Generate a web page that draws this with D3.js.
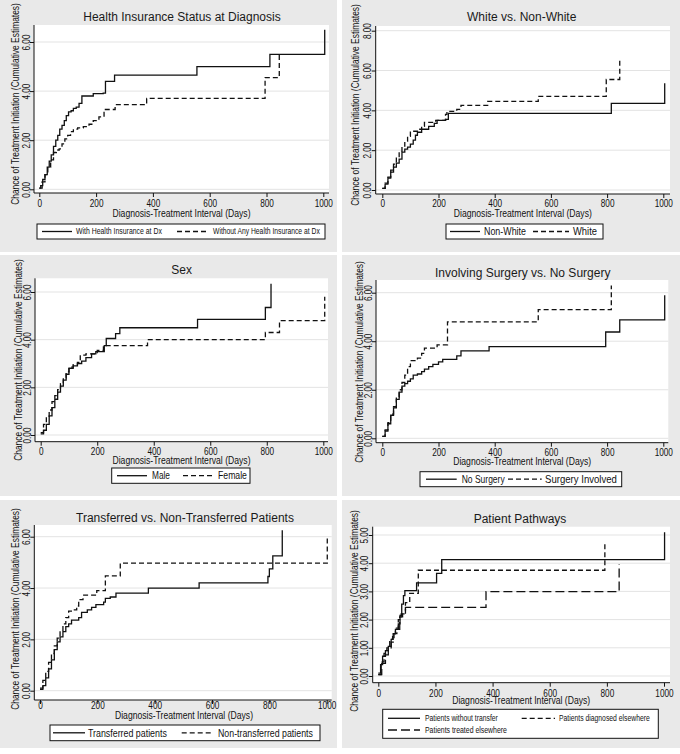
<!DOCTYPE html>
<html><head><meta charset="utf-8">
<script src="https://cdn.jsdelivr.net/npm/d3@7"></script>
<style>body{margin:0;background:#fff}svg{display:block}</style>
</head><body>
<svg id="c" width="680" height="754"></svg>
<script>
// ---------- DATA ----------
const xTicks = [0, 200, 400, 600, 800, 1000];
const yTicks6 = [0, 2, 4, 6];
const yTicks8 = [0, 2, 4, 6, 8];
const yTicks5 = [0, 1, 2, 3, 4, 5];
const xAxisTitle = "Diagnosis-Treatment Interval (Days)";
const yAxisTitle = "Chance of Treatment Initiation (Cumulative Estimates)";
const titles = ["Health Insurance Status at Diagnosis", "White vs. Non-White", "Sex",
  "Involving Surgery vs. No Surgery", "Transferred vs. Non-Transferred Patients", "Patient Pathways"];

// Panel 1
const insYesT = [0,5,12,20,28,35,42,50,58,65,72,80,88,95,103,112,120,130,140,150,190,225,233,265,555,812,1005];
const insYesV = [0.05,0.15,0.4,0.6,0.9,1.15,1.4,1.75,2.0,2.2,2.45,2.6,2.8,3.0,3.15,3.2,3.3,3.35,3.5,3.8,3.9,3.92,4.4,4.65,5.0,5.5,6.5];
const insNoT = [0,10,20,30,40,50,60,70,80,90,100,110,120,135,155,175,190,210,228,267,378,795,845];
const insNoV = [0.05,0.3,0.6,0.9,1.2,1.5,1.6,1.65,1.85,2.05,2.2,2.35,2.45,2.5,2.55,2.65,2.8,2.95,3.25,3.45,3.7,4.55,5.5];
const insLabels = ["With Health Insurance at Dx", "Without Any Health Insurance at Dx"];

// Panel 2
const nonWhiteT = [0,10,20,30,40,50,60,70,80,90,100,110,118,125,140,165,185,195,225,235,815,1005];
const nonWhiteV = [0.08,0.3,0.6,0.9,1.15,1.35,1.55,1.9,2.05,2.15,2.3,2.5,2.75,2.9,3.05,3.2,3.35,3.5,3.55,3.85,4.35,5.36];
const whiteT = [0,10,20,30,40,50,60,70,80,90,100,125,140,150,190,225,230,265,280,375,555,797,845];
const whiteV = [0.08,0.35,0.65,1.0,1.3,1.6,1.9,2.2,2.45,2.7,2.95,3.05,3.2,3.4,3.5,3.8,3.95,4.05,4.25,4.45,4.7,5.55,6.55];
const raceLabels = ["Non-White", "White"];

// Panel 3
const maleT = [0,10,20,30,40,50,60,70,80,90,100,115,130,145,160,180,195,225,232,265,280,555,795,815];
const maleV = [0.05,0.2,0.45,0.8,1.15,1.5,1.8,2.05,2.3,2.55,2.8,2.9,3.0,3.1,3.25,3.4,3.5,3.75,4.05,4.25,4.5,4.85,5.35,6.35];
const femaleT = [0,10,20,30,40,50,60,70,80,90,100,115,130,140,160,200,222,378,795,845,1005];
const femaleV = [0.1,0.45,0.75,1.05,1.4,1.65,1.9,2.15,2.4,2.65,2.85,2.95,3.05,3.35,3.4,3.55,3.75,4.0,4.3,4.8,5.8];
const sexLabels = ["Male", "Female"];

// Panel 4
const noSurgT = [0,10,20,30,40,50,60,70,80,90,100,110,125,140,150,165,180,200,215,265,280,380,795,845,1005];
const noSurgV = [0.08,0.3,0.6,0.95,1.25,1.6,1.9,2.15,2.25,2.35,2.45,2.6,2.65,2.75,2.85,2.95,3.05,3.15,3.25,3.4,3.6,3.78,4.38,4.88,5.9];
const surgT = [0,10,20,30,40,50,60,70,80,90,100,125,140,150,195,232,555,815];
const surgV = [0.08,0.35,0.65,1.0,1.3,1.7,2.0,2.3,2.6,2.95,3.2,3.3,3.5,3.72,3.85,4.8,5.3,6.3];
const surgLabels = ["No Surgery", "Surgery Involved"];

// Panel 5
const transT = [0,10,20,30,40,50,60,70,80,90,100,110,135,145,165,180,195,222,228,245,265,378,555,795,800,812,845];
const transV = [0.05,0.2,0.5,0.85,1.2,1.6,1.9,2.1,2.3,2.5,2.6,2.75,2.85,3.05,3.15,3.25,3.35,3.45,3.6,3.65,3.8,4.0,4.2,4.45,4.75,5.25,6.25];
const nonTransT = [0,10,20,30,40,50,60,70,80,90,100,115,128,135,150,198,228,280,1002];
const nonTransV = [0.1,0.4,0.75,1.1,1.45,1.75,2.05,2.35,2.6,2.85,3.1,3.15,3.3,3.55,3.72,3.9,4.47,4.97,6.0];
const transLabels = ["Transferred patients", "Non-transferred patients"];

// Panel 6
const noTransferT = [0,8,15,25,35,45,52,60,70,76,82,88,93,134,204,222,1002];
const noTransferV = [0.1,0.4,0.7,0.9,1.05,1.3,1.5,1.65,1.85,2.15,2.55,2.85,3.03,3.3,3.64,4.13,5.1];
const diagElseT = [0,10,20,30,40,50,60,70,80,95,110,140,793];
const diagElseV = [0.05,0.5,0.8,1.0,1.3,1.5,1.7,2.0,2.2,2.6,2.93,3.75,4.75];
const treatElseT = [0,12,25,35,45,55,65,75,85,95,377,843];
const treatElseV = [0.05,0.45,0.75,1.0,1.2,1.5,1.65,2.1,2.2,2.43,2.99,3.97];
const pathLabels = ["Patients without transfer", "Patients diagnosed elsewhere", "Patients treated elsewhere"];

// ---------- STYLE / LAYOUT ----------
const FONT = '"Liberation Sans", Arial, Helvetica, sans-serif';
const BG = "#e9e9e9", GRID = "#e3e3e3", INK = "#111";
const SOLID = "", DASH = "5,3", LDASH = "9,4";

const panels = [
 {title: titles[0], bg:[0,0,337,252], plot:[34,25,329,193], xr:[39.3,323.3], ymax:6, yr:[189.3,42], yt:yTicks6,
  titleX:182, titleY:20.5, xTickY:206.5, xTitleX:181.5, xTitleY:216.5, yTickX:29.5, yTitleX:19, yTitleY:104,
  series:[{t:insYesT,v:insYesV,dash:SOLID},{t:insNoT,v:insNoV,dash:DASH}],
  legend:{box:[37,224,325,239], fs:8.5, items:[
    {dash:SOLID,x1:42,x2:72,tx:76,tw:86,y:231.5,lab:insLabels[0]},
    {dash:DASH,x1:177,x2:208,tx:213,tw:107,y:231.5,lab:insLabels[1]}]}},
 {title: titles[1], bg:[342,0,680,252], plot:[375.7,26,670,194], xr:[382.3,663.3], ymax:8, yr:[190,30.7], yt:yTicks8,
  titleX:521.7, titleY:20.5, xTickY:206.5, xTitleX:522.8, xTitleY:216.5, yTickX:371, yTitleX:358.5, yTitleY:105,
  series:[{t:nonWhiteT,v:nonWhiteV,dash:SOLID},{t:whiteT,v:whiteV,dash:DASH}],
  legend:{box:[446,224,603,239], fs:10.5, items:[
    {dash:SOLID,x1:450,x2:480,tx:484,tw:42,y:231.5,lab:raceLabels[0]},
    {dash:DASH,x1:533,x2:569,tx:573,tw:24,y:231.5,lab:raceLabels[1]}]}},
 {title: titles[2], bg:[0,255,337,496], plot:[35,278.3,328,441.7], xr:[40.7,323.3], ymax:6, yr:[435,292], yt:yTicks6,
  titleX:181.7, titleY:274, xTickY:454.5, xTitleX:181.5, xTitleY:463.8, yTickX:30.5, yTitleX:21.5, yTitleY:360,
  series:[{t:maleT,v:maleV,dash:SOLID},{t:femaleT,v:femaleV,dash:DASH}],
  legend:{box:[111.7,468,250,483.3], fs:10.5, items:[
    {dash:SOLID,x1:117,x2:147,tx:152,tw:18,y:475.7,lab:sexLabels[0]},
    {dash:DASH,x1:183,x2:213,tx:218,tw:29,y:475.7,lab:sexLabels[1]}]}},
 {title: titles[3], bg:[342,255,680,496], plot:[376,280,668.3,442.7], xr:[382.3,663.3], ymax:6, yr:[438.3,292.7], yt:yTicks6,
  titleX:522.7, titleY:277, xTickY:455.5, xTitleX:522.2, xTitleY:465, yTickX:371.5, yTitleX:362.5, yTitleY:362,
  series:[{t:noSurgT,v:noSurgV,dash:SOLID},{t:surgT,v:surgV,dash:DASH}],
  legend:{box:[420,471.7,621.7,486.7], fs:10.5, items:[
    {dash:SOLID,x1:426,x2:456.7,tx:461.7,tw:43,y:479.2,lab:surgLabels[0]},
    {dash:DASH,x1:508,x2:541.7,tx:545,tw:72,y:479.2,lab:surgLabels[1]}]}},
 {title: titles[4], bg:[0,500,337,748], plot:[34.3,525,331.7,700], xr:[40,326.7], ymax:6, yr:[690.7,536.7], yt:yTicks6,
  titleX:185, titleY:521.7, xTickY:709, xTitleX:184, xTitleY:719.2, yTickX:29.5, yTitleX:18.5, yTitleY:609,
  series:[{t:transT,v:transV,dash:SOLID},{t:nonTransT,v:nonTransV,dash:DASH}],
  legend:{box:[50,725,320,740.7], fs:11, items:[
    {dash:SOLID,x1:53,x2:85,tx:88,tw:79,y:732.8,lab:transLabels[0]},
    {dash:DASH,x1:181.7,x2:213,tx:218,tw:95,y:732.8,lab:transLabels[1]}]}},
 {title: titles[5], bg:[342,500,680,748], plot:[372.7,526.7,670,682.7], xr:[378.3,664], ymax:5, yr:[676,535], yt:yTicks5,
  titleX:520, titleY:522.7, xTickY:696.5, xTitleX:521.2, xTitleY:704, yTickX:367.5, yTitleX:357.5, yTitleY:611,
  series:[{t:noTransferT,v:noTransferV,dash:SOLID},{t:diagElseT,v:diagElseV,dash:DASH},{t:treatElseT,v:treatElseV,dash:LDASH}],
  legend:{box:[382.7,709.3,658.3,738.3], fs:8.5, items:[
    {dash:SOLID,x1:388,x2:420,tx:425,tw:73,y:718.3,lab:pathLabels[0]},
    {dash:DASH,x1:521.7,x2:555,tx:559,tw:91,y:718.3,lab:pathLabels[1]},
    {dash:LDASH,x1:388,x2:420,tx:425,tw:82,y:730,lab:pathLabels[2]}]}}
];

// ---------- DRAW ----------
const svg = d3.select("#c");
svg.append("rect").attr("width",680).attr("height",754).attr("fill","#fff");

// Horizontally compress a text (along its baseline) with a transform.
function squeeze(node, pre, factor, width) {
  const nat = node.getComputedTextLength();
  const s = width != null ? width / nat : factor;
  d3.select(node).attr("transform", `${pre} scale(${s},1)`);
}

panels.forEach(p => {
  const g = svg.append("g");
  const [bx0, by0, bx1, by1] = p.bg;
  g.append("rect").attr("x",bx0).attr("y",by0).attr("width",bx1-bx0).attr("height",by1-by0).attr("fill",BG);
  const [L, T, R, B] = p.plot;
  g.append("rect").attr("x",L).attr("y",T).attr("width",R-L).attr("height",B-T).attr("fill","#fff");

  const x = d3.scaleLinear().domain([0,1000]).range(p.xr);
  const y = d3.scaleLinear().domain([0,p.ymax]).range(p.yr);

  // grid
  g.append("g").selectAll("line").data(p.yt).join("line")
    .attr("x1",L).attr("x2",R).attr("y1",d=>y(d)).attr("y2",d=>y(d))
    .attr("stroke",GRID).attr("stroke-width",1);

  // series
  const line = d3.line().x(d=>x(d[0])).y(d=>y(d[1])).curve(d3.curveStepAfter);
  p.series.forEach(s => {
    const pts = s.t.map((t,i)=>[t, s.v[i]]);
    g.append("path").datum(pts).attr("d",line).attr("fill","none")
      .attr("stroke",INK).attr("stroke-width",1.3)
      .attr("stroke-dasharray", s.dash || null);
  });

  // axis lines
  g.append("line").attr("x1",L).attr("x2",R).attr("y1",B).attr("y2",B).attr("stroke",INK).attr("stroke-width",1);
  g.append("line").attr("x1",L).attr("x2",L).attr("y1",T).attr("y2",B).attr("stroke",INK).attr("stroke-width",1);

  // x axis
  const ax = g.append("g").attr("transform",`translate(0,${B})`)
    .call(d3.axisBottom(x).tickValues(xTicks).tickSize(4).tickSizeOuter(0).tickFormat(d3.format("d")));
  ax.select(".domain").remove();
  ax.attr("font-family",FONT).attr("font-size",10.3);
  ax.selectAll("line").attr("stroke",INK);
  ax.selectAll("text").attr("x",0).attr("y",0).attr("dy",0).attr("fill",INK)
    .each(function(){squeeze(this,`translate(0,${p.xTickY-B})`,0.8);});

  // y axis
  const ay = g.append("g").attr("transform",`translate(${L},0)`)
    .call(d3.axisLeft(y).tickValues(p.yt).tickSize(4).tickSizeOuter(0).tickFormat(d3.format(".2f")));
  ay.select(".domain").remove();
  ay.attr("font-family",FONT).attr("font-size",10.2);
  ay.selectAll("line").attr("stroke",INK);
  ay.selectAll("text").attr("x",0).attr("y",0).attr("dy",0)
    .attr("text-anchor","middle").attr("fill",INK)
    .each(function(){squeeze(this,`translate(${p.yTickX-L},0) rotate(-90)`,0.8);});

  // title
  g.append("text").attr("x",p.titleX).attr("y",p.titleY).attr("text-anchor","middle")
    .attr("font-family",FONT).attr("font-size",12).attr("fill","#1a1a1a").text(p.title);

  // axis titles
  const xt = g.append("text").attr("x",0).attr("y",0).attr("text-anchor","middle")
    .attr("font-family",FONT).attr("font-size",10.4).attr("fill",INK).text(xAxisTitle);
  squeeze(xt.node(),`translate(${p.xTitleX},${p.xTitleY})`,null,138);
  const yt = g.append("text").attr("x",0).attr("y",0).attr("text-anchor","middle")
    .attr("font-family",FONT).attr("font-size",10.6).attr("fill",INK).text(yAxisTitle);
  squeeze(yt.node(),`translate(${p.yTitleX},${p.yTitleY}) rotate(-90)`,null,202);

  // legend
  const lg = p.legend;
  const [lx0,ly0,lx1,ly1] = lg.box;
  g.append("rect").attr("x",lx0).attr("y",ly0).attr("width",lx1-lx0).attr("height",ly1-ly0)
    .attr("fill","#fff").attr("stroke",INK).attr("stroke-width",1);
  lg.items.forEach(it => {
    g.append("line").attr("x1",it.x1).attr("x2",it.x2).attr("y1",it.y).attr("y2",it.y)
      .attr("stroke",INK).attr("stroke-width",1.3).attr("stroke-dasharray",it.dash || null);
    const t = g.append("text").attr("x",0).attr("y",0).attr("dy","0.35em")
      .attr("font-family",FONT).attr("font-size",lg.fs).attr("fill",INK).text(it.lab);
    squeeze(t.node(),`translate(${it.tx},${it.y})`,null,it.tw);
  });
});
</script>
</body></html>
